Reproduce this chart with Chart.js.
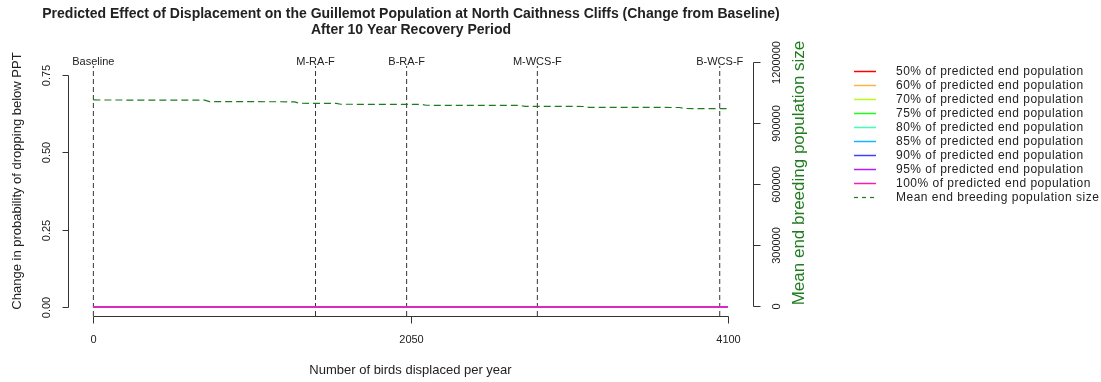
<!DOCTYPE html>
<html>
<head>
<meta charset="utf-8">
<script src="https://cdn.jsdelivr.net/npm/chart.js@4/dist/chart.umd.min.js"></script>
<style>
  html, body { margin: 0; padding: 0; background: #fff; }
  canvas { display: block; }
</style>
</head>
<body>
<canvas id="chart" width="1101" height="382"></canvas>
<script>
// ---- data ----
const titleLines = ['Predicted Effect of Displacement on the Guillemot Population at North Caithness Cliffs (Change from Baseline)', 'After 10 Year Recovery Period']
const xTitle = 'Number of birds displaced per year'
const yTitle = 'Change in probability of dropping below PPT'
const y2Title = 'Mean end breeding population size'

const xTicks = [0, 2050, 4100]
const yTicks = [0, 0.25, 0.5, 0.75]
const yTickLabels = ['0.00', '0.25', '0.50', '0.75']
const y2Ticks = [0, 300000, 600000, 900000, 1200000]

// scenario markers (vertical dashed lines)
const scenarios = ['Baseline', 'M-RA-F', 'B-RA-F', 'M-WCS-F', 'B-WCS-F']
const scenarioX = [0, 1436, 2025, 2870, 4049]

// probability of dropping below each threshold (all zero)
const displaced = [0, 1025, 2050, 3075, 4100]
const pctLabels = ['50%', '60%', '70%', '75%', '80%', '85%', '90%', '95%', '100%']
const pctColors = ['#ff0000', '#ffb347', '#b3ff1a', '#1aff1a', '#40ffb8', '#1ab3ff', '#4040ff', '#b31aff', '#ff1ab3']
const probabilities = [
  [0, 0, 0, 0, 0],
  [0, 0, 0, 0, 0],
  [0, 0, 0, 0, 0],
  [0, 0, 0, 0, 0],
  [0, 0, 0, 0, 0],
  [0, 0, 0, 0, 0],
  [0, 0, 0, 0, 0],
  [0, 0, 0, 0, 0],
  [0, 0, 0, 0, 0]
]

// mean end breeding population size
const popX = [0, 720, 750, 1300, 1330, 1570, 1600, 2120, 2150, 2760, 2790, 3170, 3200, 3790, 3820, 4100]
const popY = [1013000, 1012000, 1005000, 1004000, 997000, 996000, 992000, 991000, 987000, 986000, 982000, 981000, 977000, 976000, 971000, 970000]

// axis ranges (R style, 4% padding)
const xMin = -164, xMax = 4264
const yMin = -0.03, yMax = 0.78
const y2Min = -49000, y2Max = 1180000

const FONT = "'Liberation Sans', Arial, sans-serif"
const popColor = '#1e7b1e'
const refColor = '#333'

const datasets = []
scenarioX.forEach((sx, i) => {
  datasets.push({
    label: scenarios[i], data: [{ x: sx, y: yMin }, { x: sx, y: yMax }],
    yAxisID: 'y', borderColor: refColor, borderWidth: 1, borderDash: [5, 3],
    pointRadius: 0, showLine: true, order: 30
  })
})
pctLabels.forEach((lab, i) => {
  datasets.push({
    label: lab + ' of predicted end population',
    data: displaced.map((d, j) => ({ x: d, y: probabilities[i][j] })),
    yAxisID: 'y', borderColor: pctColors[i], borderWidth: 1.5,
    pointRadius: 0, showLine: true, order: 20 - i
  })
})
datasets.push({
  label: 'Mean end breeding population size',
  data: popX.map((d, j) => ({ x: d, y: popY[j] })),
  yAxisID: 'y2', borderColor: popColor, borderWidth: 1.2, borderDash: [7, 4],
  pointRadius: 0, showLine: true, order: 1
})

function seg(ctx, x1, y1, x2, y2) {
  ctx.beginPath(); ctx.moveTo(x1, y1); ctx.lineTo(x2, y2); ctx.stroke()
}
function vtext(ctx, txt, x, y) {
  ctx.save(); ctx.translate(x, y); ctx.rotate(-Math.PI / 2)
  ctx.fillText(txt, 0, 0); ctx.restore()
}
const px = v => Math.round(v) + 0.5

const rDecor = {
  id: 'rDecor',
  afterDraw(chart) {
    const { ctx, chartArea: a, scales } = chart
    const { x, y, y2 } = scales
    ctx.save()
    ctx.strokeStyle = refColor; ctx.fillStyle = '#222'; ctx.lineWidth = 1
    ctx.textAlign = 'center'; ctx.textBaseline = 'middle'

    // title
    ctx.font = 'bold 14px ' + FONT
    ctx.fillText(titleLines[0], 411, 14)
    ctx.fillText(titleLines[1], 411, 30)

    // x axis
    const xb = px(a.bottom)
    seg(ctx, px(x.getPixelForValue(xTicks[0])), xb, px(x.getPixelForValue(xTicks[xTicks.length - 1])), xb)
    ctx.font = '11px ' + FONT
    xTicks.forEach(t => {
      const p = px(x.getPixelForValue(t))
      seg(ctx, p, xb, p, xb + 7)
      ctx.fillText(String(t), p, 340)
    })
    ctx.font = '13px ' + FONT
    ctx.fillText(xTitle, (a.left + a.right) / 2, 370)

    // left axis
    const yl = px(a.left)
    seg(ctx, yl, px(y.getPixelForValue(yTicks[0])), yl, px(y.getPixelForValue(yTicks[yTicks.length - 1])))
    ctx.font = '11px ' + FONT
    yTicks.forEach((t, i) => {
      const p = px(y.getPixelForValue(t))
      seg(ctx, yl - 6, p, yl, p)
      vtext(ctx, yTickLabels[i], 47, p)
    })
    ctx.font = '13px ' + FONT
    vtext(ctx, yTitle, 17, 181)

    // right axis
    const yr = px(a.right)
    seg(ctx, yr, px(y2.getPixelForValue(y2Ticks[0])), yr, px(y2.getPixelForValue(y2Ticks[y2Ticks.length - 1])))
    ctx.font = '11px ' + FONT
    y2Ticks.forEach(t => {
      const p = px(y2.getPixelForValue(t))
      seg(ctx, yr, p, yr + 7, p)
      vtext(ctx, String(t), 777, p)
    })
    ctx.font = '17px ' + FONT
    ctx.fillStyle = popColor
    vtext(ctx, y2Title, 799, 173)

    // scenario labels
    ctx.fillStyle = '#222'
    ctx.font = '11px ' + FONT
    scenarios.forEach((s, i) => ctx.fillText(s, x.getPixelForValue(scenarioX[i]), 62))

    // legend
    const items = chart.data.datasets.filter(d => d.order < 30).sort((p, q) => (p.yAxisID === 'y2') - (q.yAxisID === 'y2'))
    ctx.textAlign = 'left'
    ctx.font = '12px ' + FONT
    ctx.letterSpacing = '0.5px'
    items.forEach((d, i) => {
      const ly = 71 + i * 14
      ctx.save()
      ctx.strokeStyle = d.borderColor
      ctx.lineWidth = d.yAxisID === 'y2' ? 1.2 : 1.5
      if (d.borderDash) ctx.setLineDash([4, 4])
      seg(ctx, 854, px(ly), 876, px(ly))
      ctx.restore()
      ctx.fillText(d.label, 896, ly + 1)
    })
    ctx.restore()
  }
}

new Chart(document.getElementById('chart'), {
  type: 'scatter',
  data: { datasets },
  options: {
    responsive: false,
    animation: false,
    layout: { padding: { left: 68, right: 1101 - 753, top: 66, bottom: 382 - 316 } },
    plugins: { legend: { display: false }, tooltip: { enabled: false }, title: { display: false } },
    elements: { line: { tension: 0 } },
    datasets: { scatter: { clip: false } },
    scales: {
      x: { type: 'linear', display: false, min: xMin, max: xMax },
      y: { type: 'linear', display: false, min: yMin, max: yMax },
      y2: { type: 'linear', display: false, min: y2Min, max: y2Max }
    }
  },
  plugins: [rDecor]
})
</script>
</body>
</html>
